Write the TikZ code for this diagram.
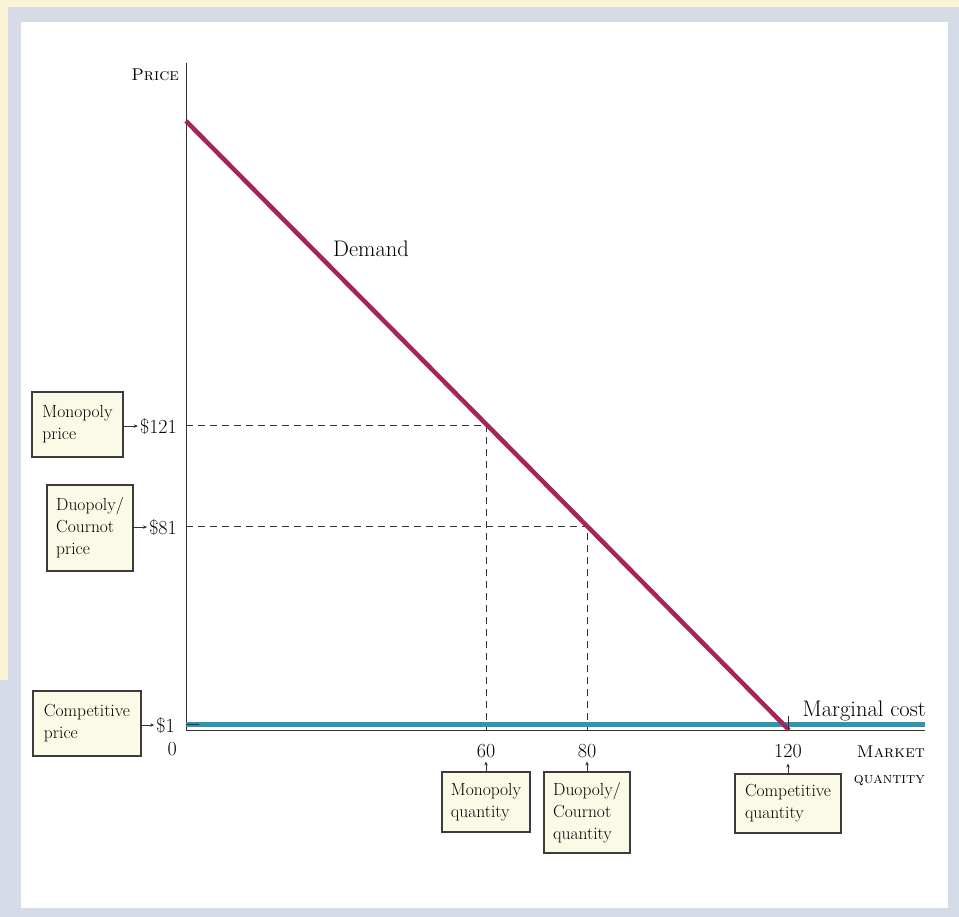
\documentclass[tikz,border=0pt]{standalone}
\usetikzlibrary{arrows.meta}
\definecolor{pagecream}{RGB}{250,243,214}
\definecolor{framegray}{RGB}{214,219,232}
\definecolor{demandred}{RGB}{166,36,88}
\definecolor{mcteal}{RGB}{44,150,178}
\definecolor{boxfill}{RGB}{250,250,230}
\definecolor{boxline}{RGB}{60,60,60}
\definecolor{axisgray}{RGB}{50,50,50}
\begin{document}
\begin{tikzpicture}[x=1pt,y=-1pt,
  infobox/.style={draw=boxline, fill=boxfill, line width=1.1pt, align=left,
    inner sep=0pt, font=\fontsize{17.5}{22}\selectfont},
  ticklab/.style={inner sep=0pt, font=\fontsize{20}{22}\selectfont},
  axisline/.style={draw=axisgray, line width=1pt},
  guide/.style={draw=axisgray, line width=0.8pt, dash pattern=on 7pt off 5pt},
  pointer/.style={draw=axisgray, line width=0.8pt, -{Stealth[length=4pt,width=3.5pt]}}
]
\useasboundingbox (0,0) rectangle (959,917);
% page frame
\fill[framegray] (0,0) rectangle (959,917);
\fill[pagecream] (0,0) rectangle (959,7);
\fill[pagecream] (0,0) rectangle (8,680);
\fill[white] (21,22) rectangle (948,908);

% axes
\coordinate (O) at (186,730);
\coordinate (ytop) at (186,63);
\coordinate (xend) at (925,730);
\draw[axisline] (ytop) -- (186,731);
\draw[axisline] (O) -- (xend);

% curve points
\coordinate (dtop) at (186,121);
\coordinate (dend) at (789,730);
\coordinate (mono) at (486,425);
\coordinate (duo) at (587,526);
\coordinate (mcstart) at (186,724.5);
\coordinate (mcend) at (925,724.5);

% guides
\draw[guide] (186,425) -- (mono) -- (486,730);
\draw[guide] (186,526) -- (duo) -- (587,730);

% marginal cost and demand
\draw[mcteal, line width=5pt] (mcstart) -- (mcend);
\draw[axisgray, line width=1.5pt] (mcstart) -- (199,724.5);
\draw[demandred, line width=4.5pt] (dtop) -- (dend);
\draw[axisgray, line width=0.9pt] (788,716) -- (788,730);

% axis titles
\node[inner sep=0pt, anchor=base east, font=\fontsize{17}{20}\selectfont] (ptitle) at (179,81) {\textsc{Price}};
\node[inner sep=0pt, anchor=base east, font=\fontsize{17}{20}\selectfont] (qtitle1) at (925,757) {\textsc{Market}};
\node[inner sep=0pt, anchor=base east, font=\fontsize{15.5}{20}\selectfont] (qtitle2) at (925,783) {\textsc{quantity}};

% curve labels
\node[inner sep=0pt, anchor=base west, font=\fontsize{22.5}{26}\selectfont] (dlab) at (333,257) {Demand};
\node[inner sep=0pt, anchor=base east, font=\fontsize{22.5}{26}\selectfont] (mclab) at (926,716) {Marginal cost};

% price tick labels
\node[ticklab, anchor=base east] (p121) at (177,433) {\$121};
\node[ticklab, anchor=base east] (p81) at (177,534) {\$81};
\node[ticklab, anchor=base east] (p1) at (175,732) {\$1};
\node[ticklab, anchor=base east] (p0) at (177,755) {0};

% quantity tick labels
\node[ticklab, anchor=base] (q60) at (486,757) {60};
\node[ticklab, anchor=base] (q80) at (587,757) {80};
\node[ticklab, anchor=base] (q120) at (788,757) {120};

% explanation boxes
\node[infobox, minimum width=91pt, minimum height=65pt] (mp) at (77.5,424.5) {Monopoly\\price};
\node[infobox, minimum width=86pt, minimum height=86pt] (dp) at (90,528) {Duopoly/\\Cournot\\price};
\node[infobox, minimum width=108pt, minimum height=65pt] (cp) at (87,723.5) {Competitive\\price};
\node[infobox, minimum width=88pt, minimum height=60pt] (mq) at (486,802) {Monopoly\\quantity};
\node[infobox, minimum width=86pt, minimum height=81pt] (dq) at (587,812.5) {Duopoly/\\Cournot\\quantity};
\node[infobox, minimum width=106pt, minimum height=59pt] (cq) at (788,803.5) {Competitive\\quantity};

% pointers
\draw[pointer] (mp.east |- p121.west) -- ([xshift=-2pt]p121.west);
\draw[pointer] (dp.east |- p81.west) -- ([xshift=-2pt]p81.west);
\draw[pointer] (cp.east |- p1.west) -- ([xshift=-2pt]p1.west);
\draw[pointer] (mq.north) -- ([yshift=10pt]mq.north);
\draw[pointer] (dq.north) -- ([yshift=10pt]dq.north);
\draw[pointer] (cq.north) -- ([yshift=10pt]cq.north);
\end{tikzpicture}
\end{document}
